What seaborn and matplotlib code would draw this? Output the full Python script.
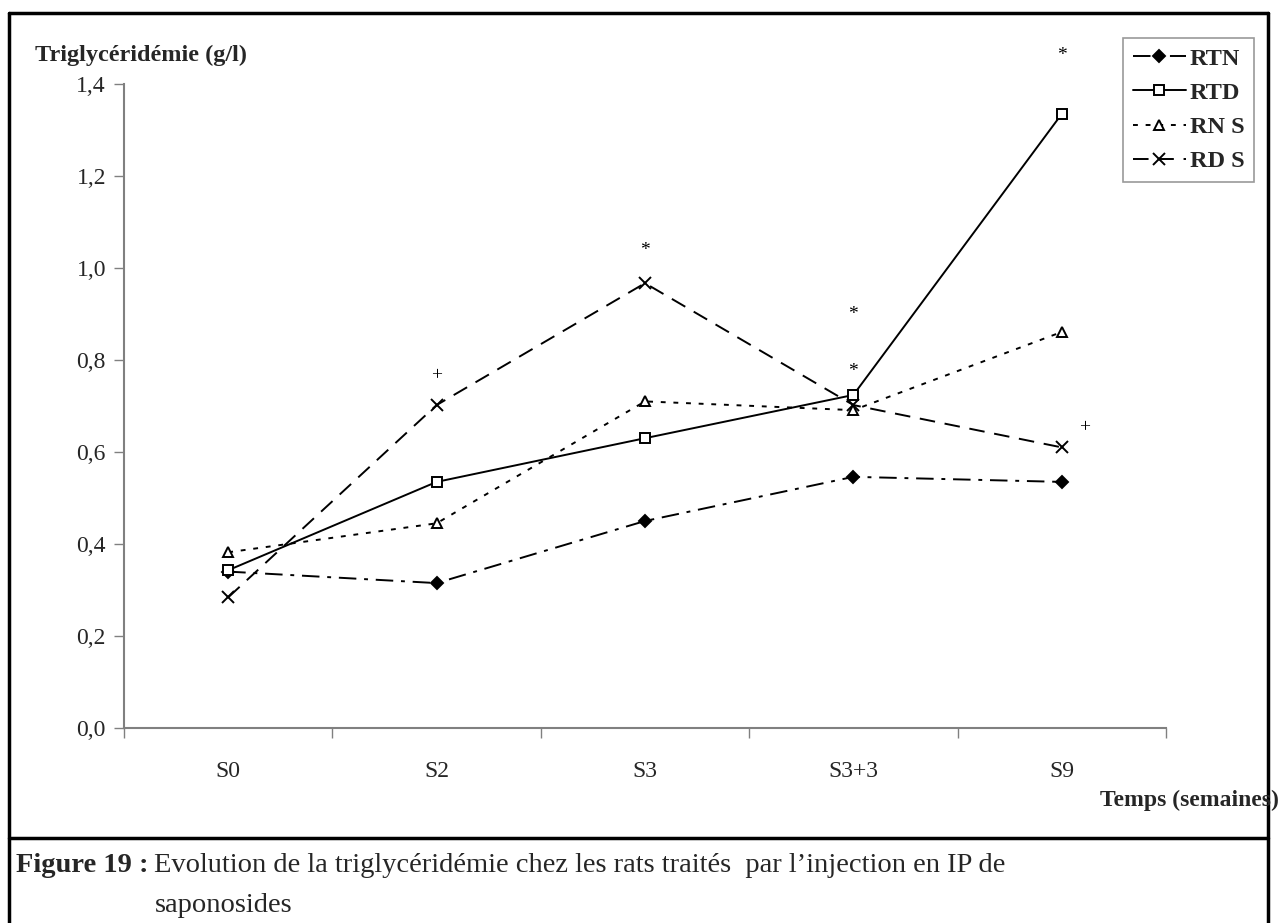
import matplotlib
matplotlib.use("Agg")
import matplotlib.pyplot as plt
import seaborn as sns
import pandas as pd
from matplotlib.lines import Line2D
from matplotlib.ticker import FuncFormatter

# données (triglycéridémie, g/l)
semaines = ["S0", "S2", "S3", "S3+3", "S9"]
rtn = [0.34, 0.315, 0.45, 0.546, 0.535]
rtd = [0.343, 0.535, 0.63, 0.724, 1.335]
rns = [0.382, 0.445, 0.71, 0.691, 0.861]
rds = [0.284, 0.702, 0.967, 0.702, 0.61]

# marques de significativité (position x en index de catégorie, y en g/l)
sig_txt = ["+", "*", "*", "*", "*", "+"]
sig_x = [1.0, 2.0, 3.0, 3.0, 4.0, 4.11]
sig_y = [0.765, 1.037, 0.898, 0.776, 1.463, 0.654]

sns.set_style("white")
plt.rcParams['font.family'] = ['Liberation Serif', 'DejaVu Serif']

W, H = 1283, 923
fig = plt.figure(figsize=(W / 100, H / 100), dpi=100)
ax = fig.add_axes([124 / W, 1 - 728 / H, (1166 - 124) / W, (728 - 84) / H])

series = [
    ("RTN", rtn, (0, (9, 4, 2, 4)), "D", "black"),
    ("RTD", rtd, "-", "s", "white"),
    ("RN S", rns, (0, (2.5, 4)), "^", "white"),
    ("RD S", rds, (0, (8, 5)), "x", "black"),
]

handles = []
for name, vals, ls, mk, fc in series:
    df = pd.DataFrame({"x": range(len(semaines)), "y": vals})
    ms = 7 if mk != "x" else 8.5
    if mk == "D":
        ms = 6
    sns.lineplot(data=df, x="x", y="y", ax=ax, color="black", linewidth=1.4,
                 linestyle=ls, marker=mk, markersize=ms, markerfacecolor=fc,
                 markeredgecolor="black", markeredgewidth=1.4)
    handles.append(Line2D([], [], color="black", linewidth=1.4, linestyle=ls,
                          marker=mk, markersize=ms, markerfacecolor=fc,
                          markeredgecolor="black", markeredgewidth=1.4, label=name))

for t, x, y in zip(sig_txt, sig_x, sig_y):
    ax.text(x, y, t, ha="center", va="center", fontsize=14, color="black")

ax.set_xlim(-0.5, 4.5)
ax.set_ylim(0, 1.4)
ax.set_xlabel("")
ax.set_ylabel("")

ax.set_xticks([i - 0.5 for i in range(len(semaines) + 1)])
ax.set_xticklabels([])
ax.set_xticks(range(len(semaines)), minor=True)
ax.set_xticklabels(semaines, minor=True, fontsize=17)
ax.tick_params(axis="x", which="major", direction="out", length=7, width=1, color="#808080", bottom=True)
ax.tick_params(axis="x", which="minor", length=0, pad=24)

ax.set_yticks([i * 0.2 for i in range(8)])
ax.yaxis.set_major_formatter(FuncFormatter(lambda v, p: f"{v:.1f}".replace(".", ",")))
ax.tick_params(axis="y", direction="out", length=7, width=1, color="#808080", left=True,
               labelsize=17, pad=6)

for s in ["top", "right"]:
    ax.spines[s].set_visible(False)
for s in ["left", "bottom"]:
    ax.spines[s].set_color("#808080")
    ax.spines[s].set_linewidth(1.5)

fig.text(35 / W, 1 - 55 / H, "Triglycéridémie (g/l)", fontsize=17.5, fontweight="bold",
         ha="left", va="center")
fig.text(1279 / W, 1 - 800 / H, "Temps (semaines)", fontsize=17, fontweight="bold",
         ha="right", va="center")

leg = fig.legend(handles=handles, loc="upper right", bbox_to_anchor=(1254 / W, 1 - 38 / H),
                 borderaxespad=0, frameon=True, fancybox=False, edgecolor="#808080",
                 handlelength=2.2, handletextpad=0.15, borderpad=0.4, labelspacing=0.5,
                 prop={"family": "Liberation Serif", "weight": "bold", "size": 17.5})
leg.get_frame().set_linewidth(1.2)

# cadre de la figure et séparation de la légende
lw = 2.5
fig.add_artist(Line2D([9 / W, 9 / W], [0, 1 - 13 / H], transform=fig.transFigure, color="black", lw=lw))
fig.add_artist(Line2D([1268 / W, 1268 / W], [0, 1 - 13 / H], transform=fig.transFigure, color="black", lw=lw))
fig.add_artist(Line2D([9 / W, 1268 / W], [1 - 13 / H, 1 - 13 / H], transform=fig.transFigure, color="black", lw=lw))
fig.add_artist(Line2D([9 / W, 1268 / W], [1 - 838 / H, 1 - 838 / H], transform=fig.transFigure, color="black", lw=lw))

t1 = fig.text(16 / W, 1 - 866 / H, "Figure 19 :", fontsize=20.5, fontweight="bold", ha="left", va="center")
fig.canvas.draw()
bb = t1.get_window_extent()
fig.text(bb.x1 / W + 6 / W, 1 - 866 / H,
         "Evolution de la triglycéridémie chez les rats traités  par l\u2019injection en IP de",
         fontsize=20.5, ha="left", va="center")
fig.text(155 / W, 1 - 906 / H, "saponosides", fontsize=20.5, ha="left", va="center")

fig.savefig("out.png", dpi=100)
